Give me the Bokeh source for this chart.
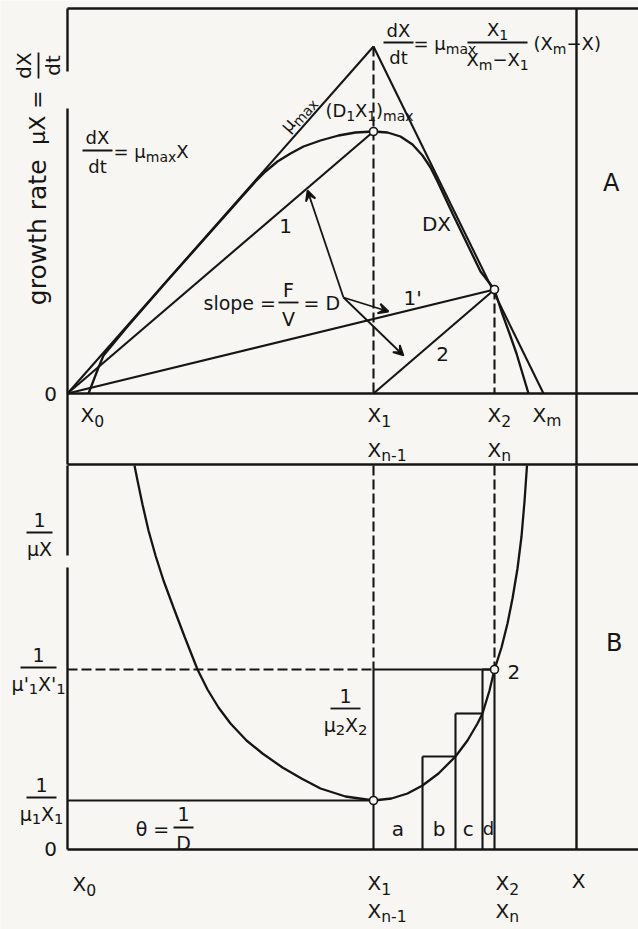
import math
import re
from bokeh.plotting import figure
from bokeh.models import Range1d, ColumnDataSource, Arrow, VeeHead
from bokeh.core.properties import value
from bokeh.embed import file_html
from bokeh.resources import INLINE

INK = "#151515"
PAPER = "#f7f6f2"
FONT = "DejaVu Sans"

# ---- marks on the biomass-concentration axis (arbitrary units) ----
X0 = 2.1
X1 = 30.6
X2 = 42.7
XM = 47.6
X_LIMIT = 50.9

# ---- panel A: growth rate dX/dt against X ----
growth_x = [2.1, 2.6, 3.1, 3.6, 6.0, 10.0, 14.0, 18.0, 18.8, 19.8, 21.0, 22.3, 23.6,
            25.3, 27.1, 28.8, 30.6, 32.0, 33.3, 34.5, 35.5, 36.3, 37.0, 37.7, 38.5,
            39.9, 41.3, 42.7, 43.4, 44.2, 44.9, 45.5, 46.1]
growth_y = [0.0, 1.3, 2.6, 3.8, 6.7, 11.3, 15.8, 20.3, 21.2, 22.2, 23.2, 24.0, 24.7,
            25.3, 25.8, 26.1, 26.2, 26.1, 25.7, 24.9, 23.8, 22.6, 21.2, 19.7, 18.0,
            15.1, 12.2, 10.4, 8.2, 6.0, 4.0, 2.0, 0.0]
APEX_Y = 34.7   # where the mu_max line meets the descending tangent
PEAK_Y = 26.2   # (D1 X1)max
P2_Y = 10.4     # operating point 2
hub_x, hub_y = 27.6, 9.6
slope_tip_x = [24.0, 32.1, 33.6]
slope_tip_y = [20.3, 8.2, 3.8]

# ---- panel B: 1/(mu X) against X ----
recip_x = [6.7, 7.0, 7.5, 8.1, 8.8, 9.6, 10.6, 11.7, 13.0, 14.0, 15.1, 16.3, 17.9,
           19.5, 21.5, 23.4, 25.3, 27.8, 30.6, 32.4, 34.0, 35.5, 37.1, 38.8, 40.0,
           41.0, 41.5, 42.2, 42.7, 43.4, 44.0, 44.5, 45.0, 45.4, 45.7, 45.95]
recip_y = [38.4, 36.9, 34.5, 31.9, 29.4, 26.9, 24.2, 21.3, 18.0, 16.0, 14.2, 12.6, 10.9,
           9.6, 8.2, 7.1, 6.1, 5.3, 4.9, 5.1, 5.6, 6.4, 7.6, 9.3, 10.9,
           12.6, 13.6, 15.9, 18.0, 20.2, 22.6, 25.1, 28.1, 31.3, 34.8, 38.4]
MIN_Y = 4.9      # 1/(mu1 X1)
P2B_Y = 18.0     # 1/(mu1' X1')
step_edges = [X1, 35.5, 38.8, 41.5, X2]
step_tops = [9.3, 13.6, 18.0]
step_names = ["a", "b", "c", "d"]

# frame extents
RIGHT = 57.1
TOP_A = 38.5
SEP_A = -7.1
TOP_B = 38.4

p = figure(width=638, height=929, x_range=Range1d(-6.7, 57.1), y_range=Range1d(-53.6, 39.3),
           output_backend="svg", toolbar_location=None, min_border=0,
           x_axis_location=None, y_axis_location=None,
           background_fill_color=PAPER, border_fill_color=PAPER, outline_line_color=None)
p.grid.visible = False
p.extra_y_ranges = {"B": Range1d(-8.0, 84.9)}

# DejaVu Sans advance widths (em) for laying out runs with subscripts
NBSP = "\u00a0"
ADV = {"X": 0.685, "D": 0.770, "μ": 0.636, "d": 0.635, "t": 0.392, "(": 0.390,
       ")": 0.390, "=": 0.838, "−": 0.838, NBSP: 0.318, "'": 0.275, "m": 0.974,
       "a": 0.613, "x": 0.592, "n": 0.634, "-": 0.361, "F": 0.575, "V": 0.684}
SUB = 0.78     # subscript size relative to the body text
DROP = 0.30    # subscript drop, as a fraction of the body size


def line(xs, ys, panel="default", dash="solid", width=2.1):
    p.line(x=xs, y=ys, line_color=INK, line_width=width, line_dash=dash,
           y_range_name=panel)


def runs_of(s):
    """Split 'X_{n-1}' style markup into (text, is_subscript) runs."""
    out = []
    for m in re.finditer(r"_\{([^}]*)\}|_(.)|([^_]+)", s):
        if m.group(1) is not None:
            out.append((m.group(1), True))
        elif m.group(2) is not None:
            out.append((m.group(2), True))
        else:
            out.append((m.group(3), False))
    # keep spaces that sit at the edge of a run
    return [(t.replace(" ", NBSP), sub) for t, sub in out]


def label(x, y, s, panel="default", size=19, align="center", angle=0.0):
    parts = runs_of(s)
    widths = []
    for t, sub in parts:
        fs = size * SUB if sub else size
        widths.append(sum(ADV.get(c, 0.62) for c in t) * fs)
    total = sum(widths)
    d = {"left": 0.0, "center": -total / 2, "right": -total}[align]
    ca, sa = math.cos(angle), math.sin(angle)
    for (t, sub), w in zip(parts, widths):
        fs = size * SUB if sub else size
        drop = size * DROP if sub else 0.0
        p.text(x=[x], y=[y], text=[t], angle=angle,
               x_offset=d * ca + drop * sa, y_offset=-d * sa + drop * ca,
               text_font=value(FONT), text_font_size=f"{fs:.1f}px", text_color=INK,
               text_align="left", text_baseline="middle", y_range_name=panel)
        d += w


def fraction(xc, yb, num, den, half, panel="default", size=19, up=1.3, down=1.6):
    label(xc, yb + up, num, panel, size)
    label(xc, yb - down, den, panel, size)
    line([xc - half, xc + half], [yb, yb], panel, width=1.8)


def rings(xs, ys, panel="default"):
    p.scatter(x=xs, y=ys, marker="circle", size=8, fill_color=PAPER, line_color=INK,
              line_width=1.6, y_range_name=panel)


DASH = "10 4"

# ================= frame =================
line([0, RIGHT], [TOP_A, TOP_A], width=2.4)
line([0, 0], [TOP_A, 32.2], width=2.4)
line([0, 0], [28.5, SEP_A], width=2.4)
line([0, RIGHT], [0, 0], width=2.4)
line([0, RIGHT], [SEP_A, SEP_A], width=2.4)
line([X_LIMIT, X_LIMIT], [TOP_A, SEP_A], width=2.4)
line([X_LIMIT, X_LIMIT], [TOP_B, 0], "B", width=2.4)
line([0, 0], [TOP_B, 29.4], "B", width=2.4)
line([0, 0], [28.2, 0], "B", width=2.4)
line([0, RIGHT], [0, 0], "B", width=2.4)

# ================= panel A =================
line([0, X1], [0, APEX_Y])                 # mu_max X
line([X1, XM], [APEX_Y, 0])                # descending tangent
line([X1, X1], [APEX_Y, 0], dash=DASH)
line([0, X1], [0, PEAK_Y])                 # line 1
line([0, X2], [0, P2_Y])                   # line 1'
line([X1, X2], [0, P2_Y])                  # line 2
line([X2, X2], [P2_Y, 0], dash=DASH)
line(growth_x, growth_y, width=2.3)
rings([X1, X2], [PEAK_Y, P2_Y])

arrows = ColumnDataSource(dict(xs=[hub_x] * 3, ys=[hub_y] * 3,
                               xe=slope_tip_x, ye=slope_tip_y))
p.add_layout(Arrow(source=arrows, x_start="xs", y_start="ys", x_end="xe", y_end="ye",
                   line_color=INK, line_width=1.8,
                   end=VeeHead(size=10, line_color=INK, line_width=1.8)))

label(-1.7, 0.0, "0", size=20)
label(X0 - 0.8, -2.1, "X_0", size=20, align="left")
label(X1 - 0.6, -2.1, "X_1", size=20, align="left")
label(X2 - 0.7, -2.1, "X_2", size=20, align="left")
label(XM - 1.1, -2.1, "X_m", size=20, align="left")
label(X1 - 0.6, -5.6, "X_{n-1}", size=20, align="left")
label(X2 - 0.7, -5.6, "X_n", size=20, align="left")

label(21.8, 16.8, "1", size=20)
label(34.5, 9.6, "1'", size=20)
label(37.5, 4.0, "2", size=20)
label(36.9, 17.0, "DX", size=20)
label(30.2, 28.3, "(D_1X_1)_{max}", size=18)
label(23.0, 28.0, "μ_{max}", size=18, angle=math.atan2(APEX_Y, X1))
label(54.3, 21.1, "A", size=24)

fraction(3.0, 24.3, "dX", "dt", 1.5, size=18)
label(4.6, 24.2, "= μ_{max}X", size=18, align="left")

fraction(33.1, 35.1, "dX", "dt", 1.5, size=18, up=1.2, down=1.5)
label(34.6, 35.0, "= μ_{max}", size=18, align="left")
fraction(43.0, 35.1, "X_1", "X_m−X_1", 3.0, size=18, up=1.3, down=1.7)
label(46.6, 35.0, "(X_m−X)", size=18, align="left")

label(13.6, 9.1, "slope =", size=19, align="left")
fraction(22.1, 9.1, "F", "V", 1.0, up=1.3, down=1.6)
label(23.6, 9.1, "= D", size=19, align="left")

# rotated ordinate title
label(-3.0, 16.4, "growth rate", size=25, angle=math.pi / 2)
label(-3.0, 27.6, "μX =", size=22, angle=math.pi / 2)
label(-4.4, 32.8, "dX", size=20, angle=math.pi / 2)
label(-1.5, 32.8, "dt", size=20, angle=math.pi / 2)
line([-2.9, -2.9], [31.5, 34.1], width=1.8)

# ================= panel B =================
line(recip_x, recip_y, "B", width=2.3)
line([0, X1], [MIN_Y, MIN_Y], "B")
line([0, X1], [P2B_Y, P2B_Y], "B", dash=DASH)
line([X1, X2], [P2B_Y, P2B_Y], "B")
for xv in (X1, X2):
    line([xv, xv], [TOP_B, P2B_Y], "B", dash=DASH)
    line([xv, xv], [P2B_Y, 0], "B")
for i, top in enumerate(step_tops):
    left, right = step_edges[i + 1], step_edges[i + 2]
    line([left, left], [0, top], "B")
    line([left, right], [top, top], "B")
for i, name in enumerate(step_names):
    label((step_edges[i] + step_edges[i + 1]) / 2, 2.1, name, "B", size=20 if i < 3 else 18)
rings([X1, X2], [MIN_Y, P2B_Y], "B")

fraction(-2.8, 31.7, "1", "μX", 1.3, "B")
fraction(-2.9, 18.2, "1", "μ'_1X'_1", 1.8, "B")
fraction(-2.6, 5.2, "1", "μ_1X_1", 1.5, "B")
label(-1.7, 0.1, "0", "B", size=20)
label(8.5, 2.1, "θ =", "B")
fraction(11.6, 2.2, "1", "D", 1.0, "B", up=1.4, down=1.5)
fraction(27.8, 14.1, "1", "μ_2X_2", 1.5, "B")
label(44.0, 17.8, "2", "B", size=20, align="left")
label(54.6, 20.7, "B", "B", size=24)

label(0.5, -3.4, "X_0", "B", size=20, align="left")
label(X1 - 0.6, -3.3, "X_1", "B", size=20, align="left")
label(X2 + 0.1, -3.3, "X_2", "B", size=20, align="left")
label(X_LIMIT + 0.2, -3.1, "X", "B", size=20)
label(X1 - 0.6, -6.1, "X_{n-1}", "B", size=20, align="left")
label(X2 + 0.1, -6.1, "X_n", "B", size=20, align="left")

open("out.html", "w").write(file_html(p, INLINE, title="Continuous culture growth rate"))
